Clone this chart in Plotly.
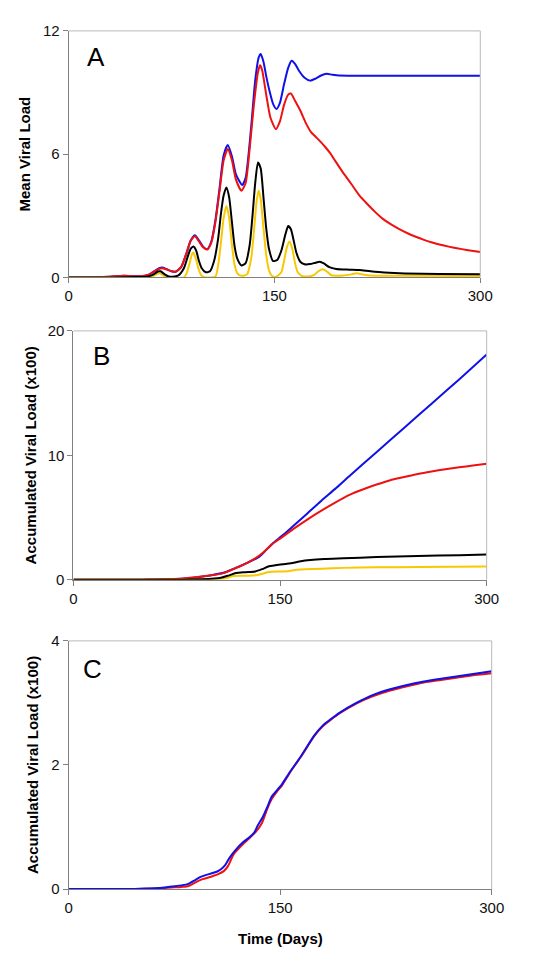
import plotly.graph_objects as go

# ---------------- Panel A : Mean viral load ----------------
a_blue_day = [0, 15, 30, 40, 46, 52, 58, 62, 66, 68, 71, 75, 78, 82, 86, 89, 92, 95, 98, 101, 104, 107, 110, 113, 116, 119, 122, 126.5, 129, 133, 136, 138.5, 140, 142, 144, 146.5, 149, 151.5, 154, 157, 160, 162.5, 165, 168, 172, 176, 180, 184, 188, 192, 197, 210, 300]
a_blue_val = [0, 0.01, 0.03, 0.08, 0.06, 0.06, 0.12, 0.28, 0.45, 0.48, 0.42, 0.3, 0.28, 0.5, 1.2, 1.8, 2.05, 1.8, 1.5, 1.38, 1.75, 2.8, 4.35, 5.95, 6.45, 5.9, 5.0, 4.5, 4.85, 7.3, 9.6, 10.7, 10.88, 10.5, 9.8, 9.05, 8.45, 8.2, 8.5, 9.4, 10.2, 10.55, 10.4, 10.05, 9.72, 9.58, 9.68, 9.83, 9.91, 9.87, 9.83, 9.82, 9.82]

a_red_day = [0, 15, 30, 40, 46, 52, 58, 62, 66, 68, 71, 75, 78, 82, 86, 89, 92, 95, 98, 101, 104, 107, 110, 113, 116, 119, 122, 126, 129, 132, 135, 138, 139.5, 141, 144, 147, 151, 154, 157, 160, 162, 165, 169, 173, 176.5, 180, 183.5, 187, 190.6, 195, 200, 206, 212, 218, 223.5, 229, 235, 241, 247, 253, 259, 265, 271, 277, 283, 290, 300]
a_red_val = [0, 0.01, 0.03, 0.08, 0.06, 0.06, 0.12, 0.28, 0.42, 0.45, 0.4, 0.3, 0.28, 0.5, 1.2, 1.8, 2.0, 1.75, 1.47, 1.36, 1.7, 2.7, 4.2, 5.7, 6.25, 5.7, 4.75, 4.22, 4.6, 6.3, 8.4, 10.0, 10.33, 10.1, 8.9, 7.8, 7.22, 7.6, 8.4, 8.9, 8.95, 8.6, 8.1, 7.5, 7.09, 6.85, 6.61, 6.35, 6.05, 5.6, 5.1, 4.55, 3.98, 3.55, 3.18, 2.85, 2.58, 2.35, 2.15, 1.98, 1.83, 1.7, 1.59, 1.5, 1.42, 1.34, 1.24]

a_black_day = [0, 30, 50, 58, 62, 65, 67, 70, 73, 76, 80, 84, 87, 89, 91, 93, 95, 97, 100, 103, 106, 109, 111, 113, 115, 117, 119, 121, 123, 126, 129, 132, 134, 136, 138, 140, 142, 144, 146, 149, 152, 155, 158, 160, 162, 164, 166, 169, 172, 176, 180, 183, 186, 190, 195, 205, 212, 220, 230, 245, 270, 300]
a_black_val = [0, 0, 0.02, 0.05, 0.15, 0.29, 0.3, 0.15, 0.05, 0.03, 0.1, 0.45, 1.05, 1.4, 1.51, 1.3, 0.8, 0.45, 0.25, 0.3, 0.8, 1.9, 3.1, 4.0, 4.38, 3.9, 2.7, 1.5, 0.9, 0.58, 0.7, 1.6, 3.0, 4.6, 5.6, 5.3, 3.9, 2.4, 1.4, 0.8, 0.85, 1.3, 2.1, 2.5, 2.35, 1.8, 1.2, 0.75, 0.64, 0.65, 0.72, 0.76, 0.68, 0.5, 0.41, 0.38, 0.36, 0.3, 0.24, 0.19, 0.17, 0.15]

a_yellow_day = [0, 55, 60, 63, 66, 68, 70, 73, 84, 86, 88, 90, 91, 93, 95, 97, 100, 107, 109, 111, 113, 115, 117, 119, 121, 123, 126, 130, 133, 135, 137, 138.5, 140, 142, 144, 146, 148, 151, 155, 157, 159, 161, 163, 165, 167, 170, 175, 179, 182, 185, 188, 191, 195, 200, 206, 210, 214, 220, 240, 300]
a_yellow_val = [0, 0, 0.03, 0.12, 0.2, 0.15, 0.04, 0, 0, 0.2, 0.65, 1.15, 1.2, 0.85, 0.35, 0.08, 0, 0.05, 0.6, 1.7, 2.9, 3.48, 2.9, 1.6, 0.6, 0.2, 0.08, 0.15, 0.9, 2.2, 3.7, 4.23, 3.8, 2.4, 1.1, 0.35, 0.08, 0.03, 0.25, 0.8, 1.45, 1.75, 1.4, 0.7, 0.25, 0.07, 0.05, 0.12, 0.3, 0.4, 0.3, 0.12, 0.08, 0.09, 0.15, 0.2, 0.15, 0.09, 0.08, 0.07]

# ---------------- Panel B : Accumulated viral load (x100) ----------------
b_blue_day = [0, 50, 60, 70, 80, 90, 100, 110, 120, 128, 135, 140, 145, 150, 155, 160, 170, 180, 190, 200, 220, 240, 260, 280, 300]
b_blue_val = [0, 0, 0.02, 0.05, 0.1, 0.2, 0.36, 0.6, 1.05, 1.45, 1.85, 2.4, 2.95, 3.4, 3.85, 4.35, 5.35, 6.35, 7.3, 8.3, 10.25, 12.2, 14.15, 16.1, 18.1]

b_red_day = [0, 50, 60, 70, 80, 90, 100, 109, 115, 121, 127, 132, 138, 144, 150, 155, 160, 170, 180, 190, 200, 210, 220, 230, 240, 250, 260, 270, 280, 290, 300]
b_red_val = [0, 0, 0.02, 0.05, 0.1, 0.21, 0.35, 0.53, 0.8, 1.08, 1.4, 1.71, 2.2, 2.84, 3.3, 3.7, 4.1, 4.85, 5.55, 6.2, 6.8, 7.25, 7.65, 8.0, 8.25, 8.5, 8.7, 8.88, 9.03, 9.18, 9.32]

b_black_day = [0, 80, 90, 100, 107, 113, 118, 125, 132, 137, 142, 149, 155, 160, 165, 172, 182, 196, 220, 250, 280, 300]
b_black_val = [0, 0, 0.03, 0.08, 0.15, 0.35, 0.53, 0.6, 0.66, 0.85, 1.08, 1.21, 1.28, 1.36, 1.48, 1.58, 1.66, 1.72, 1.82, 1.9, 1.97, 2.02]

b_yellow_day = [0, 85, 95, 105, 111, 116, 125, 133, 138, 142, 150, 156, 161, 168, 180, 196, 220, 250, 300]
b_yellow_val = [0, 0, 0.02, 0.05, 0.13, 0.29, 0.32, 0.36, 0.5, 0.62, 0.66, 0.68, 0.78, 0.83, 0.88, 0.95, 0.99, 1.02, 1.05]

# ---------------- Panel C : Accumulated viral load (x100) ----------------
c_blue_day = [0, 40, 55, 64, 73, 80, 85, 90, 94, 100, 105, 108, 111, 114, 118, 123.6, 128, 131.6, 134, 137.4, 141, 144, 148, 151, 157, 165, 174, 180, 186, 192, 204, 216, 228, 240, 252, 264, 276, 288, 300]
c_blue_val = [0, 0, 0.008, 0.016, 0.042, 0.06, 0.084, 0.15, 0.2, 0.245, 0.28, 0.32, 0.385, 0.5, 0.62, 0.754, 0.83, 0.91, 1.02, 1.15, 1.33, 1.49, 1.6, 1.68, 1.89, 2.15, 2.47, 2.63, 2.74, 2.84, 3.0, 3.13, 3.22, 3.29, 3.345, 3.39, 3.43, 3.47, 3.51]

c_red_day = [0, 40, 55, 64, 73, 80, 85, 90, 95, 101, 106, 110, 113, 117, 123, 129, 133, 137, 141, 144, 148, 151, 157, 165, 174, 180, 186, 192, 204, 216, 228, 240, 252, 264, 276, 288, 300]
c_red_val = [0, 0, 0.005, 0.01, 0.025, 0.035, 0.05, 0.11, 0.16, 0.2, 0.24, 0.29, 0.37, 0.56, 0.71, 0.84, 0.93, 1.06, 1.3, 1.45, 1.58, 1.66, 1.88, 2.14, 2.46, 2.62, 2.73, 2.83, 2.99, 3.11, 3.2, 3.27, 3.33, 3.37, 3.41, 3.45, 3.48]

x_ticks = [0, 150, 300]
a_y_ticks = [0, 6, 12]
b_y_ticks = [0, 10, 20]
c_y_ticks = [0, 2, 4]

BLUE = "#1010e8"
RED = "#ee1111"
BLACK = "#000000"
YELLOW = "#f8c800"
FONT = "Liberation Sans, Arial, sans-serif"
W, H = 542, 958

fig = go.Figure()

def add(x, y, color, xa, ya):
    fig.add_trace(go.Scatter(x=x, y=y, mode="lines", xaxis=xa, yaxis=ya,
                             line=dict(color=color, width=2, shape="spline", smoothing=0.6),
                             showlegend=False, hoverinfo="skip"))

add(a_blue_day, a_blue_val, BLUE, "x", "y")
add(a_red_day, a_red_val, RED, "x", "y")
add(a_yellow_day, a_yellow_val, YELLOW, "x", "y")
add(a_black_day, a_black_val, BLACK, "x", "y")

add(b_blue_day, b_blue_val, BLUE, "x2", "y2")
add(b_red_day, b_red_val, RED, "x2", "y2")
add(b_yellow_day, b_yellow_val, YELLOW, "x2", "y2")
add(b_black_day, b_black_val, BLACK, "x2", "y2")

add(c_red_day, c_red_val, RED, "x3", "y3")
add(c_blue_day, c_blue_val, BLUE, "x3", "y3")

def px_x(p):
    return p / W

def px_y(p):
    return 1 - p / H

panels = [
    # (x-left, x-right, y-top, y-bottom) in pixels
    (66.7, 491.7, 22.3, 273.3, a_y_ticks),
    (71.7, 498.3, 327.7, 581.0, b_y_ticks),
    (66.7, 503.5, 643.3, 896.0, c_y_ticks),
]

axcommon = dict(showgrid=False, zeroline=False, showline=True, linecolor="#808080", linewidth=1,
                ticks="outside", ticklen=5, tickcolor="#808080", tickwidth=1,
                tickfont=dict(family=FONT, size=15, color="#111111"), fixedrange=True)

layout = dict(width=W, height=H, margin=dict(l=0, r=0, t=0, b=0, pad=0),
              paper_bgcolor="white", plot_bgcolor="white", showlegend=False)

shapes = []
for i, (xl, xr, yt, yb, yt_ticks) in enumerate(panels):
    sfx = "" if i == 0 else str(i + 1)
    layout["xaxis" + sfx] = dict(domain=[px_x(xl), px_x(xr)], range=[0, 300], tickvals=x_ticks,
                                 anchor="y" + sfx, **axcommon)
    layout["yaxis" + sfx] = dict(domain=[px_y(yb), px_y(yt)], range=[0, yt_ticks[-1]], tickvals=yt_ticks,
                                 anchor="x" + sfx, **axcommon)
    xr_ = "x" + sfx + " domain"
    yr_ = "y" + sfx + " domain"
    shapes.append(dict(type="line", xref=xr_, yref=yr_, x0=0, x1=1, y0=1, y1=1,
                       line=dict(color="#b8b8b8", width=1)))
    shapes.append(dict(type="line", xref=xr_, yref=yr_, x0=1, x1=1, y0=0, y1=1,
                       line=dict(color="#b8b8b8", width=1)))

layout["shapes"] = shapes

annotations = []
# panel letters
for letter, cx, cy in [("A", 95.3, 48.5), ("B", 100.4, 353.5), ("C", 91.0, 671.5)]:
    annotations.append(dict(text=letter, x=px_x(cx), y=px_y(cy), xref="paper", yref="paper",
                            xanchor="center", yanchor="middle", showarrow=False,
                            font=dict(family=FONT, size=26, color="#000000")))
# y-axis titles
for txt, cx, cy in [("Mean Viral Load", 21, 147.8),
                    ("Accumulated Viral Load (x100)", 27, 454.3),
                    ("Accumulated Viral Load (x100)", 30, 769.6)]:
    annotations.append(dict(text="<b>" + txt + "</b>", x=px_x(cx), y=px_y(cy), xref="paper", yref="paper",
                            xanchor="center", yanchor="middle", textangle=-90, showarrow=False,
                            font=dict(family=FONT, size=15, color="#000000")))
# x-axis title
annotations.append(dict(text="<b>Time (Days)</b>", x=px_x(285), y=px_y(946.7), xref="paper", yref="paper",
                        xanchor="center", yanchor="middle", showarrow=False,
                        font=dict(family=FONT, size=15, color="#000000")))
layout["annotations"] = annotations

fig.update_layout(**layout)
fig.write_html("out.html",
               config={"displayModeBar": False, "staticPlot": True},
               post_script="document.body.style.margin='0';document.body.style.overflow='hidden';")
